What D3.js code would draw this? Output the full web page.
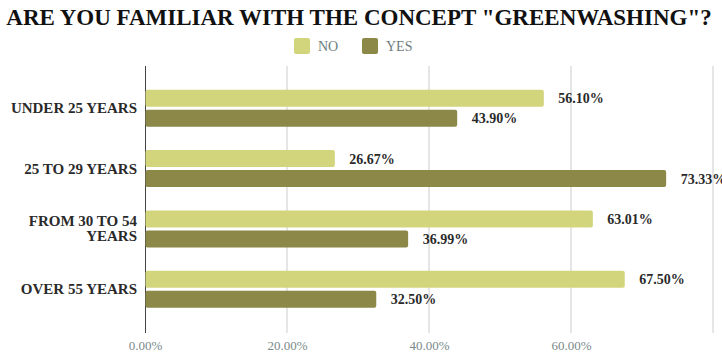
<!DOCTYPE html>
<html><head><meta charset="utf-8">
<script src="https://cdn.jsdelivr.net/npm/d3@7/dist/d3.min.js"></script>
<style>body{margin:0;background:#fff;overflow:hidden}</style>
</head><body><svg id="c" width="722" height="356"></svg>
<script>
const categories = ["UNDER 25 YEARS", "25 TO 29 YEARS", "FROM 30 TO 54 YEARS", "OVER 55 YEARS"];
const categoryLines = [["UNDER 25 YEARS"], ["25 TO 29 YEARS"], ["FROM 30 TO 54", "YEARS"], ["OVER 55 YEARS"]];
const series = ["NO", "YES"];
const noValues = [56.10, 26.67, 63.01, 67.50];
const yesValues = [43.90, 73.33, 36.99, 32.50];
const tickValues = [0, 20, 40, 60, 80];
const tickLabelValues = [0, 20, 40, 60];
const colors = ["#d3d57c", "#8b8848"];

const svg = d3.select("#c");
const serif = "Liberation Serif, Times New Roman, serif";
const x = d3.scaleLinear().domain([0, 80]).range([145, 713]);
const y = d3.scaleBand().domain(categories).range([78, 319.5]);
const y1 = d3.scaleBand().domain(series).range([-18.5, 18.5]).paddingInner(0.15);
const color = d3.scaleOrdinal().domain(series).range(colors);

svg.append("text").attr("x", 359).attr("y", 25).attr("text-anchor", "middle")
  .attr("font-family", serif).attr("font-weight", "bold").attr("font-size", 23)
  .attr("fill", "#111").text('ARE YOU FAMILIAR WITH THE CONCEPT "GREENWASHING"?');

// legend
const leg = svg.append("g");
const legX = [294, 362];
series.forEach((s, i) => {
  leg.append("rect").attr("x", legX[i]).attr("y", 38).attr("width", 16).attr("height", 16)
    .attr("rx", 2).attr("fill", color(s));
  leg.append("text").attr("x", legX[i] + 24).attr("y", 51).attr("font-family", serif)
    .attr("font-size", 14).attr("fill", "#6e7e7e").text(s);
});

// grid
svg.append("g").selectAll("line").data(tickValues.slice(1)).join("line")
  .attr("x1", d => x(d)).attr("x2", d => x(d)).attr("y1", 66).attr("y2", 333)
  .attr("stroke", "#cccccc").attr("stroke-width", 1);

// x axis
const xa = svg.append("g").attr("transform", "translate(0,333)")
  .call(d3.axisBottom(x).tickValues(tickLabelValues).tickSize(0).tickFormat(d => d.toFixed(2) + "%"));
xa.select(".domain").remove();
xa.selectAll("text").attr("font-family", serif).attr("font-size", 13).attr("fill", "#7a8a8a").attr("dy", "1.05em");

// y axis line
svg.append("line").attr("x1", 145.5).attr("x2", 145.5).attr("y1", 66).attr("y2", 333)
  .attr("stroke", "#444").attr("stroke-width", 1);

// category labels
categories.forEach((c, i) => {
  const lines = categoryLines[i];
  const cy = y(c) + y.bandwidth() / 2;
  const t = svg.append("text").attr("text-anchor", "end").attr("font-family", serif)
    .attr("font-weight", "bold").attr("font-size", 15).attr("fill", "#2a2a2a");
  lines.forEach((l, j) => {
    t.append("tspan").attr("x", 137).attr("y", cy + 5 + (j - (lines.length - 1) / 2) * 15).text(l);
  });
});

const data = categories.map((c, i) => ({cat: c, NO: noValues[i], YES: yesValues[i]}));
const groups = svg.append("g").selectAll("g").data(data).join("g")
  .attr("transform", d => `translate(0,${y(d.cat) + y.bandwidth() / 2})`);
groups.selectAll("rect").data(d => series.map(s => ({s, v: d[s]}))).join("rect")
  .attr("x", x(0) + 0.5).attr("y", d => y1(d.s)).attr("height", y1.bandwidth())
  .attr("width", d => x(d.v) - x(0)).attr("rx", 2).attr("fill", d => color(d.s));
groups.selectAll("text").data(d => series.map(s => ({s, v: d[s]}))).join("text")
  .attr("x", d => x(d.v) + 15).attr("y", d => y1(d.s) + y1.bandwidth() / 2 + 5)
  .attr("font-family", serif).attr("font-weight", "bold").attr("font-size", 14).attr("fill", "#2a2a2a")
  .text(d => d.v.toFixed(2) + "%");
</script></body></html>
